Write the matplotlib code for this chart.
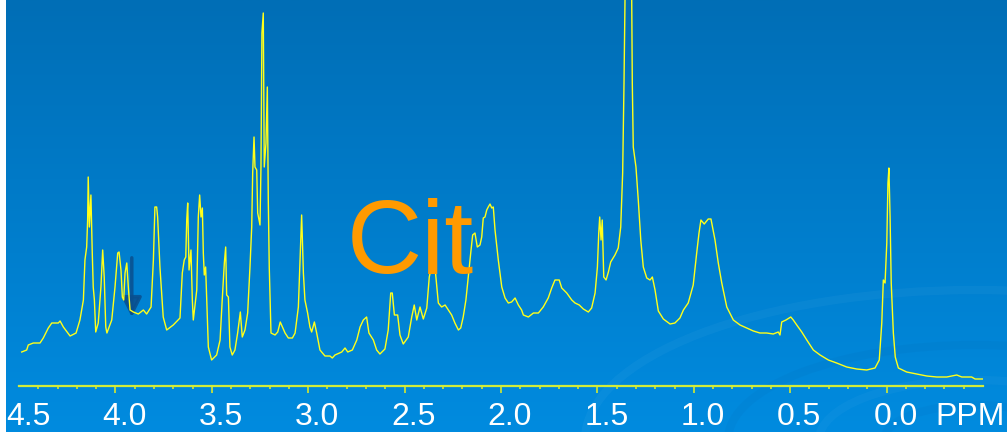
import numpy as np
import matplotlib
matplotlib.use("Agg")
import matplotlib.pyplot as plt
from matplotlib.patches import Arc
from matplotlib.transforms import ScaledTranslation, blended_transform_factory

# 1H NMR spectrum (chemical shift in ppm, intensity in arbitrary units)
ppm = [4.486, 4.460, 4.452, 4.426, 4.391, 4.374, 4.348, 4.330, 4.296, 4.287,
       4.270, 4.235, 4.204, 4.184, 4.166, 4.158, 4.149, 4.144, 4.141, 4.135,
       4.127, 4.120, 4.115, 4.109, 4.102, 4.089, 4.075, 4.066, 4.058, 4.050,
       4.044, 4.019, 4.002, 3.988, 3.981, 3.971, 3.964, 3.957, 3.950, 3.941,
       3.933, 3.924, 3.907, 3.881, 3.855, 3.838, 3.815, 3.803, 3.795, 3.786,
       3.781, 3.769, 3.752, 3.734, 3.700, 3.665, 3.653, 3.643, 3.635, 3.630,
       3.625, 3.618, 3.608, 3.601, 3.596, 3.578, 3.570, 3.563, 3.556, 3.549,
       3.544, 3.539, 3.532, 3.526, 3.518, 3.501, 3.475, 3.457, 3.446, 3.435,
       3.428, 3.423, 3.414, 3.406, 3.394, 3.380, 3.366, 3.352, 3.342, 3.328,
       3.314, 3.302, 3.293, 3.288, 3.281, 3.276, 3.267, 3.262, 3.250, 3.245,
       3.240, 3.233, 3.228, 3.219, 3.212, 3.207, 3.202, 3.193, 3.172, 3.158,
       3.145, 3.120, 3.103, 3.082, 3.068, 3.051, 3.043, 3.034, 3.025, 3.017,
       3.003, 2.991, 2.982, 2.968, 2.956, 2.939, 2.913, 2.887, 2.875, 2.861,
       2.826, 2.809, 2.795, 2.771, 2.748, 2.731, 2.714, 2.697, 2.685, 2.662,
       2.645, 2.628, 2.602, 2.585, 2.572, 2.564, 2.553, 2.536, 2.524, 2.507,
       2.481, 2.463, 2.450, 2.437, 2.420, 2.403, 2.385, 2.372, 2.359, 2.342,
       2.325, 2.308, 2.290, 2.273, 2.256, 2.239, 2.221, 2.209, 2.196, 2.182,
       2.170, 2.157, 2.147, 2.135, 2.123, 2.109, 2.100, 2.092, 2.083, 2.074,
       2.066, 2.057, 2.048, 2.040, 2.031, 2.014, 1.996, 1.979, 1.962, 1.945,
       1.927, 1.910, 1.893, 1.884, 1.858, 1.832, 1.806, 1.781, 1.755, 1.737,
       1.720, 1.698, 1.685, 1.659, 1.633, 1.616, 1.594, 1.573, 1.547, 1.530,
       1.512, 1.500, 1.493, 1.488, 1.481, 1.475, 1.467, 1.455, 1.443, 1.431,
       1.409, 1.392, 1.379, 1.369, 1.362, 1.357, 1.341, 1.322, 1.319, 1.314,
       1.300, 1.288, 1.275, 1.262, 1.244, 1.227, 1.215, 1.201, 1.184, 1.158,
       1.123, 1.098, 1.072, 1.054, 1.029, 1.003, 0.985, 0.973, 0.963, 0.946,
       0.925, 0.911, 0.890, 0.873, 0.855, 0.829, 0.795, 0.760, 0.726, 0.691,
       0.657, 0.622, 0.588, 0.562, 0.553, 0.544, 0.522, 0.497, 0.484, 0.466,
       0.440, 0.414, 0.380, 0.345, 0.302, 0.259, 0.207, 0.155, 0.103, 0.060,
       0.038, 0.025, 0.017, 0.008, -0.001, -0.007, -0.012, -0.018, -0.024, -0.035,
       -0.045, -0.061, -0.104, -0.156, -0.208, -0.260, -0.312, -0.364, -0.390, -0.441,
       -0.459, -0.502]
intensity = [34, 36, 41, 43, 43, 48, 58, 63, 63, 65,
             59, 50, 53, 66, 86, 126, 139, 166, 209, 159,
             191, 133, 99, 86, 54, 63, 99, 136, 109, 59,
             53, 66, 99, 133, 134, 116, 89, 86, 113, 123,
             99, 76, 74, 72, 76, 72, 79, 126, 179, 179,
             169, 119, 69, 56, 61, 68, 113, 126, 129, 166,
             183, 116, 136, 86, 66, 96, 169, 191, 169, 178,
             133, 111, 119, 86, 39, 26, 31, 46, 86, 123,
             139, 91, 89, 39, 31, 36, 53, 74, 49, 56,
             73, 119, 159, 213, 249, 219, 216, 173, 161, 219,
             353, 373, 219, 243, 299, 186, 119, 53, 51, 54,
             64, 53, 48, 48, 53, 79, 123, 171, 113, 86,
             73, 59, 54, 64, 53, 36, 30, 30, 28, 31,
             34, 38, 34, 36, 46, 59, 66, 69, 53, 46,
             36, 32, 37, 56, 93, 93, 71, 71, 51, 42,
             49, 69, 81, 66, 79, 67, 78, 109, 121, 118,
             83, 79, 81, 76, 71, 63, 56, 58, 69, 86,
             109, 133, 151, 153, 139, 141, 149, 168, 169, 176,
             179, 182, 178, 179, 156, 126, 99, 88, 83, 84,
             88, 81, 76, 71, 69, 73, 73, 79, 88, 98,
             106, 106, 98, 93, 86, 83, 81, 77, 74, 78,
             93, 119, 153, 169, 146, 166, 109, 106, 114, 124,
             131, 138, 159, 213, 303, 386, 480, 386, 303, 239,
             219, 186, 146, 119, 108, 106, 109, 96, 75, 67,
             62, 63, 68, 76, 83, 101, 133, 153, 166, 162,
             167, 167, 146, 123, 103, 79, 66, 61, 58, 55,
             53, 53, 52, 54, 51, 64, 66, 69, 66, 61,
             54, 46, 36, 31, 26, 23, 19, 17, 16, 18,
             26, 63, 106, 103, 143, 203, 218, 169, 103, 53,
             29, 18, 14, 12, 10, 9, 9, 11, 9, 9,
             7, 7]

major_ticks = [4.0, 3.5, 3.0, 2.5, 2.0, 1.5, 1.0, 0.5, 0.0]
tick_labels = ["4.5", "4.0", "3.5", "3.0", "2.5", "2.0", "1.5", "1.0", "0.5", "0.0"]
label_pos = [4.5, 4.0, 3.5, 3.0, 2.5, 2.0, 1.5, 1.0, 0.5, 0.0]

W, H = 1007, 432
fig = plt.figure(figsize=(W / 100, H / 100), dpi=100, facecolor="white")

# gradient background with faint ripples
bg = fig.add_axes([6 / W, 0, 1 - 6 / W, 1])
grad = np.linspace(0, 1, 256).reshape(-1, 1)
top = np.array([0x00, 0x6E, 0xB6]) / 255
bot = np.array([0x00, 0x8B, 0xDF]) / 255
img = top + (bot - top) * grad[:, :, None]
bg.imshow(img, aspect="auto", extent=[6, W, H, 0])
for r, col, a in [(300, "white", 0.035), (190, "#004E90", 0.06), (120, "white", 0.03), (70, "#004E90", 0.05)]:
    bg.add_patch(Arc((975, 440), 2.6 * r, 1.0 * r, theta1=180, theta2=360,
                     color=col, alpha=a, lw=6))
bg.set_xlim(6, W)
bg.set_ylim(H, 0)
bg.axis("off")

ax = fig.add_axes([19 / W, 46 / H, (983 - 19) / W, 386 / H])
ax.patch.set_alpha(0)
ax.plot(ppm, intensity, color="#FFFF1A", lw=1.0, zorder=3)
ax.annotate("", xy=(3.915, 66), xytext=(3.915, 131),
            arrowprops=dict(arrowstyle="-|>,head_width=0.3,head_length=0.6",
                            mutation_scale=20, lw=2.5, color="#0A4F8E", alpha=0.85),
            zorder=2)
ax.set_xlim(4.5, -0.5)
ax.set_ylim(0, 386)

for s in ["top", "left", "right"]:
    ax.spines[s].set_visible(False)
ax.spines["bottom"].set_color("#D2EC3A")
ax.spines["bottom"].set_linewidth(1.6)
ax.set_yticks([])
ax.set_xticks(major_ticks)
ax.set_xticks(np.arange(4.4, -0.45, -0.1), minor=True)
ax.tick_params(axis="x", which="major", direction="out", length=5, width=1.1,
               color="#E6F020", labelbottom=False)
ax.tick_params(axis="x", which="minor", direction="out", length=2.5, width=1.1,
               color="#E6F020")

trans = blended_transform_factory(ax.transData, fig.transFigure)
shift = ScaledTranslation(9 / 100, 0, fig.dpi_scale_trans)
for p, lab in zip(label_pos, tick_labels):
    fig.text(p, 7 / H, lab, transform=trans + shift, ha="center", va="baseline",
             color="white", fontsize=23, family="Liberation Sans")
fig.text(935 / W, 7 / H, "PPM", ha="left", va="baseline", color="white",
         fontsize=23, family="Liberation Sans")

fig.text(347 / W, (H - 273) / H, "Cit", ha="left", va="baseline", color="#FF9A00",
         fontsize=75, family="Liberation Sans", zorder=10)

fig.savefig("out.png", dpi=100, facecolor=fig.get_facecolor())
